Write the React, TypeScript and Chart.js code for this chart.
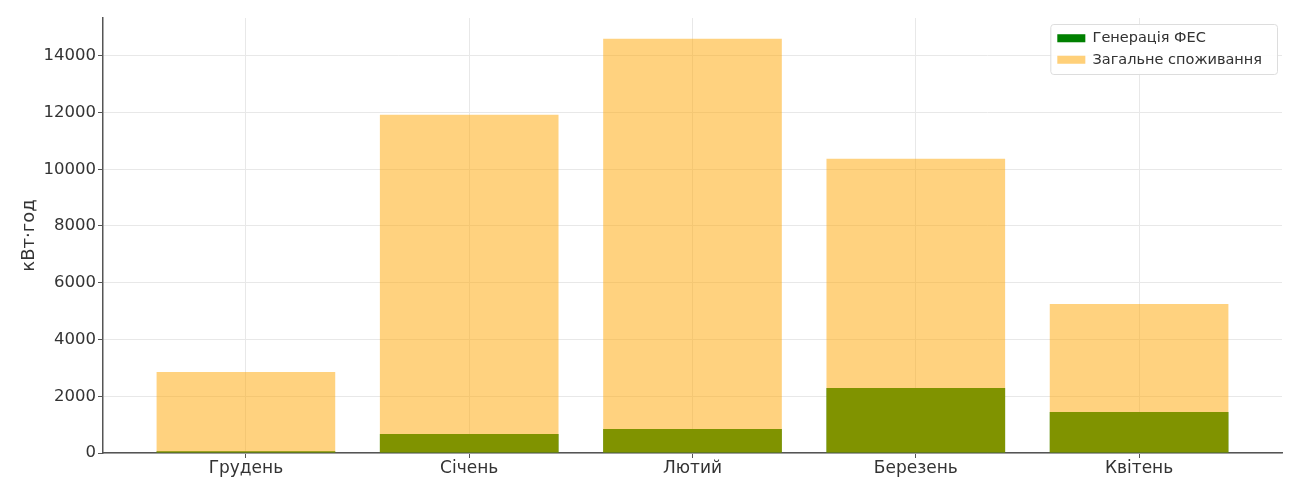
import React, { useEffect, useRef } from 'react';
import { Chart, registerables } from 'chart.js';

Chart.register(...registerables);

const months = ['Грудень', 'Січень', 'Лютий', 'Березень', 'Квітень'];
const generation = [60, 670, 846, 2292, 1446];
const consumption = [2856, 11918, 14598, 10367, 5254];
const yTicks = [0, 2000, 4000, 6000, 8000, 10000, 12000, 14000];
const xTicks = [0, 1, 2, 3, 4];
const seriesLabels = ['Генерація ФЕС', 'Загальне споживання'];
const yTitle = 'кВт·год';

const FONT = "'DejaVu Sans', sans-serif";
const LEG_PAD = 7;

function frameSize(lg: any) {
  const col = lg.columnSizes && lg.columnSizes[0] ? lg.columnSizes[0] : { width: 200, height: 44 };
  return { w: col.width + LEG_PAD * 2 + 8, h: col.height + LEG_PAD };
}

const legendFrame = {
  id: 'legendFrame',
  afterLayout(chart: any) {
    const lg = chart.legend;
    const ca = chart.chartArea;
    if (!lg) return;
    const { w, h } = frameSize(lg);
    lg.left = ca.right - 5 - w;
    lg.right = lg.left + w;
    lg.top = ca.top + 6;
    lg.bottom = lg.top + h;
  },
  afterDraw(chart: any) {
    const lg = chart.legend;
    if (!lg) return;
    const { w, h } = frameSize(lg);
    const ctx = chart.ctx;
    ctx.save();
    ctx.beginPath();
    ctx.roundRect(lg.left + 0.5, lg.top + 0.5, w, h, 3);
    ctx.fillStyle = 'rgba(255,255,255,0.9)';
    ctx.fill();
    ctx.strokeStyle = '#dddddd';
    ctx.lineWidth = 1;
    ctx.stroke();
    ctx.restore();
    lg.draw(chart.chartArea);
  },
};

export default function App() {
  const ref = useRef<HTMLCanvasElement | null>(null);

  useEffect(() => {
    if (!ref.current) return;
    const chart = new Chart(ref.current, {
      type: 'bar',
      data: {
        datasets: [
          {
            label: seriesLabels[0],
            data: generation.map((v, i) => ({ x: i, y: v })),
            backgroundColor: '#008000',
            borderWidth: 0,
            order: 1,
          },
          {
            label: seriesLabels[1],
            data: consumption.map((v, i) => ({ x: i, y: v })),
            backgroundColor: 'rgba(255,165,0,0.5)',
            borderWidth: 0,
            order: 0,
          },
        ],
      },
      plugins: [legendFrame],
      options: {
        animation: false,
        responsive: false,
        maintainAspectRatio: false,
        datasets: {
          bar: { grouped: false, barPercentage: 0.8, categoryPercentage: 1.0 },
        },
        layout: { padding: { left: 0, top: 18, right: 10, bottom: 0 } },
        plugins: {
          tooltip: { enabled: false },
          legend: {
            position: 'chartArea',
            align: 'start',
            labels: {
              boxWidth: 28,
              boxHeight: 8,
              padding: LEG_PAD,
              color: '#333',
              font: { family: FONT, size: 14.5 },
              sort: (a: any, b: any) => a.datasetIndex - b.datasetIndex,
            },
          },
        },
        scales: {
          x: {
            type: 'linear',
            offset: false,
            min: -0.64,
            max: 4.64,
            afterBuildTicks: (s: any) => {
              s.ticks = xTicks.map((v) => ({ value: v }));
            },
            afterFit: (s: any) => {
              s.height = 26;
            },
            ticks: {
              callback: (v: any) => months[v as number] ?? '',
              color: '#333',
              font: { family: FONT, size: 17 },
              padding: 0,
              maxRotation: 0,
              autoSkip: false,
            },
            grid: { offset: false, color: '#e8e8e8', tickColor: '#555', tickLength: 5, lineWidth: 1 },
            border: { display: true, color: '#555', width: 1.5 },
          },
          y: {
            type: 'linear',
            min: 0,
            max: 15330,
            afterBuildTicks: (s: any) => {
              s.ticks = yTicks.map((v) => ({ value: v }));
            },
            afterFit: (s: any) => {
              s.width = 103;
            },
            ticks: {
              color: '#333',
              font: { family: FONT, size: 16.5 },
              padding: 2,
              callback: (v: any) => String(v),
            },
            grid: { color: '#e8e8e8', tickColor: '#555', tickLength: 5, lineWidth: 1 },
            border: { display: true, color: '#555', width: 1.5 },
            title: {
              display: true,
              text: yTitle,
              color: '#333',
              font: { family: FONT, size: 18 },
              padding: { top: 19, bottom: 0 },
            },
          },
        },
      },
    } as any);
    return () => chart.destroy();
  }, []);

  return (
    <div style={{ position: 'fixed', left: 0, top: 0, width: 1292, height: 479, background: '#fff' }}>
      <canvas ref={ref} width={1292} height={479} style={{ width: 1292, height: 479, display: 'block' }} />
    </div>
  );
}
